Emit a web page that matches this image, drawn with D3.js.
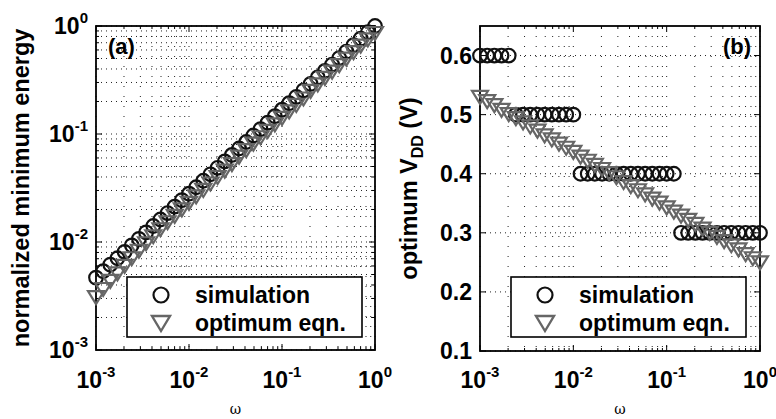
<!DOCTYPE html>
<html>
<head>
<meta charset="utf-8">
<script src="https://cdn.jsdelivr.net/npm/d3@7"></script>
<style>
  body { margin: 0; background: #fff; }
  svg { display: block; font-family: "Liberation Sans", Arial, sans-serif; font-weight: bold; }
</style>
</head>
<body>
<div class="chart"></div>
<script>
// sample points (log spaced, 1e-3 .. 1)
var omega = [0.001000, 0.001194, 0.001425, 0.001701, 0.002031, 0.002424, 0.002894, 0.003455, 0.004125, 0.004924,
             0.005878, 0.007017, 0.008377, 0.01000, 0.01194, 0.01425, 0.01701, 0.02031, 0.02424, 0.02894,
             0.03455, 0.04125, 0.04924, 0.05878, 0.07017, 0.08377, 0.1000, 0.1194, 0.1425, 0.1701,
             0.2031, 0.2424, 0.2894, 0.3455, 0.4125, 0.4924, 0.5878, 0.7017, 0.8377, 1.000];

// panel (a): normalized minimum energy
var energySim = [0.00468, 0.00537, 0.00617, 0.00707, 0.00811, 0.00931, 0.01069, 0.01227, 0.01407, 0.01615,
                 0.01854, 0.02128, 0.02443, 0.02800, 0.03214, 0.03690, 0.04236, 0.04863, 0.05572, 0.06397,
                 0.07345, 0.08433, 0.09683, 0.1109, 0.1274, 0.1462, 0.1679, 0.1928, 0.2208, 0.2535,
                 0.2911, 0.3342, 0.3837, 0.4395, 0.5047, 0.5794, 0.6653, 0.7638, 0.8750, 1.000];
var energyEqn = [0.00309, 0.00367, 0.00437, 0.00512, 0.00601, 0.00707, 0.00830, 0.00974, 0.01131, 0.01313,
                 0.01524, 0.01749, 0.02008, 0.02302, 0.02642, 0.03033, 0.03482, 0.03997, 0.04580, 0.05258,
                 0.06177, 0.07092, 0.08143, 0.09327, 0.1071, 0.1230, 0.1412, 0.1621, 0.1857, 0.2132,
                 0.2506, 0.2877, 0.3304, 0.3784, 0.4345, 0.4989, 0.5728, 0.6576, 0.7534, 0.8610];

// panel (b): optimum VDD (V)
var vddSim = [0.6, 0.6, 0.6, 0.6, 0.6, 0.5, 0.5, 0.5, 0.5, 0.5,
              0.5, 0.5, 0.5, 0.5, 0.4, 0.4, 0.4, 0.4, 0.4, 0.4,
              0.4, 0.4, 0.4, 0.4, 0.4, 0.4, 0.4, 0.4, 0.3, 0.3,
              0.3, 0.3, 0.3, 0.3, 0.3, 0.3, 0.3, 0.3, 0.3, 0.3];
var vddEqn = [0.530, 0.523, 0.516, 0.508, 0.501, 0.494, 0.487, 0.480, 0.473, 0.465,
              0.458, 0.451, 0.444, 0.437, 0.429, 0.422, 0.415, 0.408, 0.401, 0.394,
              0.386, 0.379, 0.372, 0.365, 0.358, 0.351, 0.343, 0.336, 0.329, 0.322,
              0.315, 0.307, 0.300, 0.293, 0.286, 0.279, 0.272, 0.264, 0.257, 0.250];

var decadeExps = [-3, -2, -1, 0];
var vddTicks = [0.1, 0.2, 0.3, 0.4, 0.5, 0.6];
var seriesNames = ["simulation", "optimum eqn."];
var xLabel = "\u03c9";

var svgWidth = 776;
var svgHeight = 419;

var svg = d3.select(".chart")
  .append("svg")
  .attr("width", svgWidth)
  .attr("height", svgHeight);

svg.append("rect").attr("width", svgWidth).attr("height", svgHeight).attr("fill", "#fff");

var circleColor = "#111";
var triColor = "#666";
var triPath = "M-8,-6L8,-6L0,7Z";

// one panel
function drawPanel(p) {
  var g = svg.append("g");
  var x = p.x, y = p.y;
  var x0 = x.range()[0], x1 = x.range()[1];
  var y0 = y.range()[0], y1 = y.range()[1];

  // dotted grid
  var xGrid = x.ticks();
  g.selectAll(".vgrid").data(xGrid).enter().append("line")
    .attr("x1", function(d) { return x(d); })
    .attr("x2", function(d) { return x(d); })
    .attr("y1", y1).attr("y2", y0)
    .attr("stroke", "#222").attr("stroke-width", 1)
    .attr("stroke-dasharray", "1,9");
  g.selectAll(".hgrid").data(p.yGrid).enter().append("line")
    .attr("x1", x0).attr("x2", x1)
    .attr("y1", function(d) { return y(d); })
    .attr("y2", function(d) { return y(d); })
    .attr("stroke", "#222").attr("stroke-width", 1)
    .attr("stroke-dasharray", "1,4");

  // inward ticks, minor on log axes
  var major = decadeExps.map(function(e) { return Math.pow(10, e); });
  xGrid.forEach(function(d) {
    var len = major.some(function(m) { return Math.abs(m - d) / d < 1e-6; }) ? 6 : 3;
    g.append("line").attr("x1", x(d)).attr("x2", x(d)).attr("y1", y0).attr("y2", y0 - len)
      .attr("stroke", "#000").attr("stroke-width", 1);
    g.append("line").attr("x1", x(d)).attr("x2", x(d)).attr("y1", y1).attr("y2", y1 + len)
      .attr("stroke", "#000").attr("stroke-width", 1);
  });
  p.yGrid.forEach(function(d) {
    var len = p.yMajor.some(function(m) { return Math.abs(m - d) / d < 1e-6; }) ? 6 : 3;
    g.append("line").attr("x1", x0).attr("x2", x0 + len).attr("y1", y(d)).attr("y2", y(d))
      .attr("stroke", "#000").attr("stroke-width", 1);
    g.append("line").attr("x1", x1).attr("x2", x1 - len).attr("y1", y(d)).attr("y2", y(d))
      .attr("stroke", "#000").attr("stroke-width", 1);
  });

  // box
  g.append("rect")
    .attr("x", x0).attr("y", y1)
    .attr("width", x1 - x0).attr("height", y0 - y1)
    .attr("fill", "none").attr("stroke", "#000").attr("stroke-width", 1.8);

  // x tick labels 10^k
  decadeExps.forEach(function(e) {
    var t = g.append("text")
      .attr("x", x(Math.pow(10, e)))
      .attr("y", 388)
      .attr("text-anchor", "middle")
      .style("font-size", "23px");
    t.append("tspan").text("10");
    t.append("tspan").attr("dy", -11).style("font-size", "15px").text(e === 0 ? "0" : "-" + (-e));
  });

  // y tick labels
  p.yLabels(g);

  // axis titles
  g.append("text")
    .attr("x", (x0 + x1) / 2)
    .attr("y", 414)
    .attr("text-anchor", "middle")
    .style("font-family", "'DejaVu Serif', serif")
    .style("font-weight", "normal")
    .style("font-size", "14px")
    .text(xLabel);

  var yt = g.append("text")
    .attr("transform", "translate(" + p.yTitleX + "," + ((y0 + y1) / 2) + ") rotate(-90)")
    .attr("text-anchor", "middle")
    .style("font-size", "23.5px");
  p.yTitle(yt);

  // panel tag
  g.append("text").attr("x", p.tagX).attr("y", 54).style("font-size", "22px").text(p.tag);

  // markers
  g.selectAll(".sim").data(omega).enter().append("circle")
    .attr("cx", function(d) { return x(d); })
    .attr("cy", function(d, i) { return y(p.sim[i]); })
    .attr("r", 6.8)
    .attr("fill", "none").attr("stroke", circleColor).attr("stroke-width", 2.2);
  g.selectAll(".eqn").data(omega).enter().append("path")
    .attr("transform", function(d, i) { return "translate(" + x(d) + "," + y(p.eqn[i]) + ")"; })
    .attr("d", triPath)
    .attr("fill", "none").attr("stroke", triColor).attr("stroke-width", 2.2);

  // legend
  var lg = g.append("g").attr("transform", "translate(" + p.legX + ",277)");
  lg.append("rect").attr("width", 235).attr("height", 60)
    .attr("fill", "#fff").attr("stroke", "#000").attr("stroke-width", 1.6);
  lg.append("circle").attr("cx", 34).attr("cy", 18).attr("r", 7.5)
    .attr("fill", "none").attr("stroke", circleColor).attr("stroke-width", 2.2);
  lg.append("path").attr("transform", "translate(34,46)").attr("d", "M-9,-7L9,-7L0,8Z")
    .attr("fill", "none").attr("stroke", triColor).attr("stroke-width", 2.4);
  lg.append("text").attr("x", 68).attr("y", 26).style("font-size", "23px").text(seriesNames[0]);
  lg.append("text").attr("x", 68).attr("y", 54).style("font-size", "23px").text(seriesNames[1]);
}

// (a)
var xA = d3.scaleLog().domain([1e-3, 1]).range([96, 375]);
var yA = d3.scaleLog().domain([1e-3, 1]).range([350, 26]);
drawPanel({
  x: xA, y: yA,
  sim: energySim, eqn: energyEqn,
  yGrid: yA.ticks(),
  yMajor: decadeExps.map(function(e) { return Math.pow(10, e); }),
  yLabels: function(g) {
    decadeExps.forEach(function(e) {
      var t = g.append("text")
        .attr("x", 88)
        .attr("y", yA(Math.pow(10, e)) + 8)
        .attr("text-anchor", "end")
        .style("font-size", "23px");
      t.append("tspan").text("10");
      t.append("tspan").attr("dy", -11).style("font-size", "15px").text(e === 0 ? "0" : "-" + (-e));
    });
  },
  yTitleX: 29,
  yTitle: function(t) { t.text("normalized minimum energy"); },
  tag: "(a)", tagX: 108,
  legX: 127
});

// (b)
var xB = d3.scaleLog().domain([1e-3, 1]).range([480, 760]);
var yB = d3.scaleLinear().domain([0.1, 0.65]).range([351, 26]);
drawPanel({
  x: xB, y: yB,
  sim: vddSim, eqn: vddEqn,
  yGrid: vddTicks,
  yMajor: vddTicks,
  yLabels: function(g) {
    g.selectAll(".ylab").data(vddTicks).enter().append("text")
      .attr("x", 472)
      .attr("y", function(d) { return yB(d) + 8; })
      .attr("text-anchor", "end")
      .style("font-size", "23px")
      .text(function(d) { return d3.format(".1f")(d); });
  },
  yTitleX: 417,
  yTitle: function(t) {
    t.append("tspan").text("optimum V");
    t.append("tspan").attr("dy", 6).style("font-size", "16px").text("DD");
    t.append("tspan").attr("dy", -6).text(" (V)");
  },
  tag: "(b)", tagX: 723,
  legX: 511
});
</script>
</body>
</html>
